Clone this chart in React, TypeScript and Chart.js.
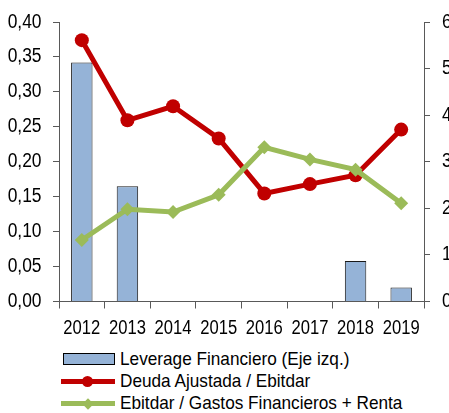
import React, { useEffect, useRef } from "react";
import { Chart, registerables } from "chart.js";

Chart.register(...registerables);

const years = ["2012", "2013", "2014", "2015", "2016", "2017", "2018", "2019"];
const leverage = [0.342, 0.165, 0, 0, 0, 0, 0.058, 0.02];
const deudaEbitdar = [5.61, 3.89, 4.19, 3.5, 2.32, 2.52, 2.71, 3.69];
const ebitdarGastos = [1.32, 1.98, 1.92, 2.29, 3.31, 3.05, 2.83, 2.11];
const leftTickLabels = ["0,00", "0,05", "0,10", "0,15", "0,20", "0,25", "0,30", "0,35", "0,40"];
const rightTickLabels = ["0", "1", "2", "3", "4", "5", "6"];
const seriesNames = [
  "Leverage Financiero (Eje izq.)",
  "Deuda Ajustada / Ebitdar",
  "Ebitdar / Gastos Financieros + Renta",
];

const BAR_COLOR = "#95B3D7";
const RED = "#C00000";
const GREEN = "#9BBB59";
const AXIS = "#595959";
const FONT = "'Liberation Sans', Arial, sans-serif";

const CW = 470;
const CH = 345;

// Draws the tick labels slightly condensed (as in the reference image)
const condensedTicks = {
  id: "condensedTicks",
  afterDraw(chart: any) {
    const ctx = chart.ctx as CanvasRenderingContext2D;
    const { x, y, y1 } = chart.scales;
    const area = chart.chartArea;
    const draw = (text: string, px: number, py: number, align: CanvasTextAlign, s: number) => {
      ctx.save();
      ctx.translate(px, py);
      ctx.scale(s, 1);
      ctx.textAlign = align;
      ctx.textBaseline = "middle";
      ctx.fillStyle = "#000";
      ctx.font = `20px ${FONT}`;
      ctx.fillText(text, 0, 0);
      ctx.restore();
    };
    x.ticks.forEach((_t: any, i: number) => {
      draw(years[i], x.getPixelForTick(i), area.bottom + 27, "center", 0.83);
    });
    y.ticks.forEach((t: any, i: number) => {
      draw(leftTickLabels[i], area.left - 17.5, y.getPixelForValue(t.value), "right", 0.87);
    });
    y1.ticks.forEach((t: any, i: number) => {
      draw(rightTickLabels[i], area.right + 18, y1.getPixelForValue(t.value), "left", 0.87);
    });
  },
};

export default function App() {
  const ref = useRef<HTMLCanvasElement | null>(null);

  useEffect(() => {
    if (!ref.current) return;
    const chart = new Chart(ref.current, {
      type: "bar",
      data: {
        labels: years,
        datasets: [
          {
            type: "line",
            label: seriesNames[2],
            data: ebitdarGastos,
            yAxisID: "y1",
            borderColor: GREEN,
            backgroundColor: GREEN,
            borderWidth: 5,
            pointStyle: "rectRot",
            pointRadius: 7,
            pointBorderWidth: 0,
            pointBackgroundColor: GREEN,
            tension: 0,
            order: 0,
          },
          {
            type: "line",
            label: seriesNames[1],
            data: deudaEbitdar,
            yAxisID: "y1",
            borderColor: RED,
            backgroundColor: RED,
            borderWidth: 5,
            pointStyle: "circle",
            pointRadius: 7,
            pointBorderWidth: 0,
            pointBackgroundColor: RED,
            tension: 0,
            order: 1,
          },
          {
            type: "bar",
            label: seriesNames[0],
            data: leverage,
            yAxisID: "y",
            backgroundColor: BAR_COLOR,
            borderColor: "#1a1a1a",
            borderWidth: 1,
            barPercentage: 0.47,
            categoryPercentage: 1,
            order: 2,
          },
        ] as any,
      },
      options: {
        animation: false,
        responsive: false,
        maintainAspectRatio: false,
        layout: { padding: { top: 22, left: 0, right: 0, bottom: 0 } },
        plugins: { legend: { display: false }, tooltip: { enabled: false } },
        scales: {
          x: {
            offset: true,
            grid: {
              display: true,
              drawOnChartArea: false,
              drawTicks: true,
              tickLength: 7,
              color: AXIS,
              offset: true,
            },
            border: { display: true, color: AXIS },
            ticks: { display: false },
            afterFit: (s: any) => {
              s.height = CH - 301.5;
            },
          },
          y: {
            position: "left",
            min: 0,
            max: 0.4,
            ticks: { stepSize: 0.05, display: false },
            grid: { drawOnChartArea: false, drawTicks: true, tickLength: 6, color: AXIS },
            border: { display: true, color: AXIS },
            afterFit: (s: any) => {
              s.width = 59;
            },
          },
          y1: {
            position: "right",
            min: 0,
            max: 6,
            ticks: { stepSize: 1, display: false },
            grid: { drawOnChartArea: false, drawTicks: true, tickLength: 6, color: AXIS },
            border: { display: true, color: AXIS },
            afterFit: (s: any) => {
              s.width = CW - 424;
            },
          },
        },
      } as any,
      plugins: [condensedTicks],
    });
    return () => chart.destroy();
  }, []);

  const textStyle: React.CSSProperties = {
    fontFamily: FONT,
    fontSize: 19,
    color: "#000",
    whiteSpace: "nowrap",
    marginLeft: 5,
    display: "inline-block",
    transform: "scaleX(0.905)",
    transformOrigin: "left center",
  };
  const row = (top: number): React.CSSProperties => ({
    position: "absolute",
    left: 61,
    top,
    height: 22,
    display: "flex",
    alignItems: "center",
  });
  const markerBox: React.CSSProperties = {
    position: "relative",
    width: 54,
    height: 22,
    flex: "0 0 auto",
  };

  return (
    <div
      style={{
        position: "absolute",
        left: 0,
        top: 0,
        width: 449,
        height: 413,
        overflow: "hidden",
        background: "#fff",
      }}
    >
      <canvas ref={ref} width={CW} height={CH} style={{ display: "block", width: CW, height: CH }} />
      <div style={row(348)}>
        <div style={markerBox}>
          <div
            style={{
              position: "absolute",
              left: 2,
              top: 5,
              width: 50,
              height: 10,
              background: BAR_COLOR,
              border: "1px solid #000",
            }}
          />
        </div>
        <span style={textStyle}>{seriesNames[0]}</span>
      </div>
      <div style={row(370)}>
        <div style={markerBox}>
          <div style={{ position: "absolute", left: 0, top: 8.5, width: 54, height: 5, background: RED }} />
          <div
            style={{
              position: "absolute",
              left: 21,
              top: 5.5,
              width: 11,
              height: 11,
              borderRadius: "50%",
              background: RED,
            }}
          />
        </div>
        <span style={textStyle}>{seriesNames[1]}</span>
      </div>
      <div style={row(392)}>
        <div style={markerBox}>
          <div style={{ position: "absolute", left: 0, top: 9, width: 54, height: 5, background: GREEN }} />
          <div
            style={{
              position: "absolute",
              left: 23,
              top: 7.5,
              width: 8,
              height: 8,
              transform: "rotate(45deg)",
              background: GREEN,
            }}
          />
        </div>
        <span style={textStyle}>{seriesNames[2]}</span>
      </div>
    </div>
  );
}
